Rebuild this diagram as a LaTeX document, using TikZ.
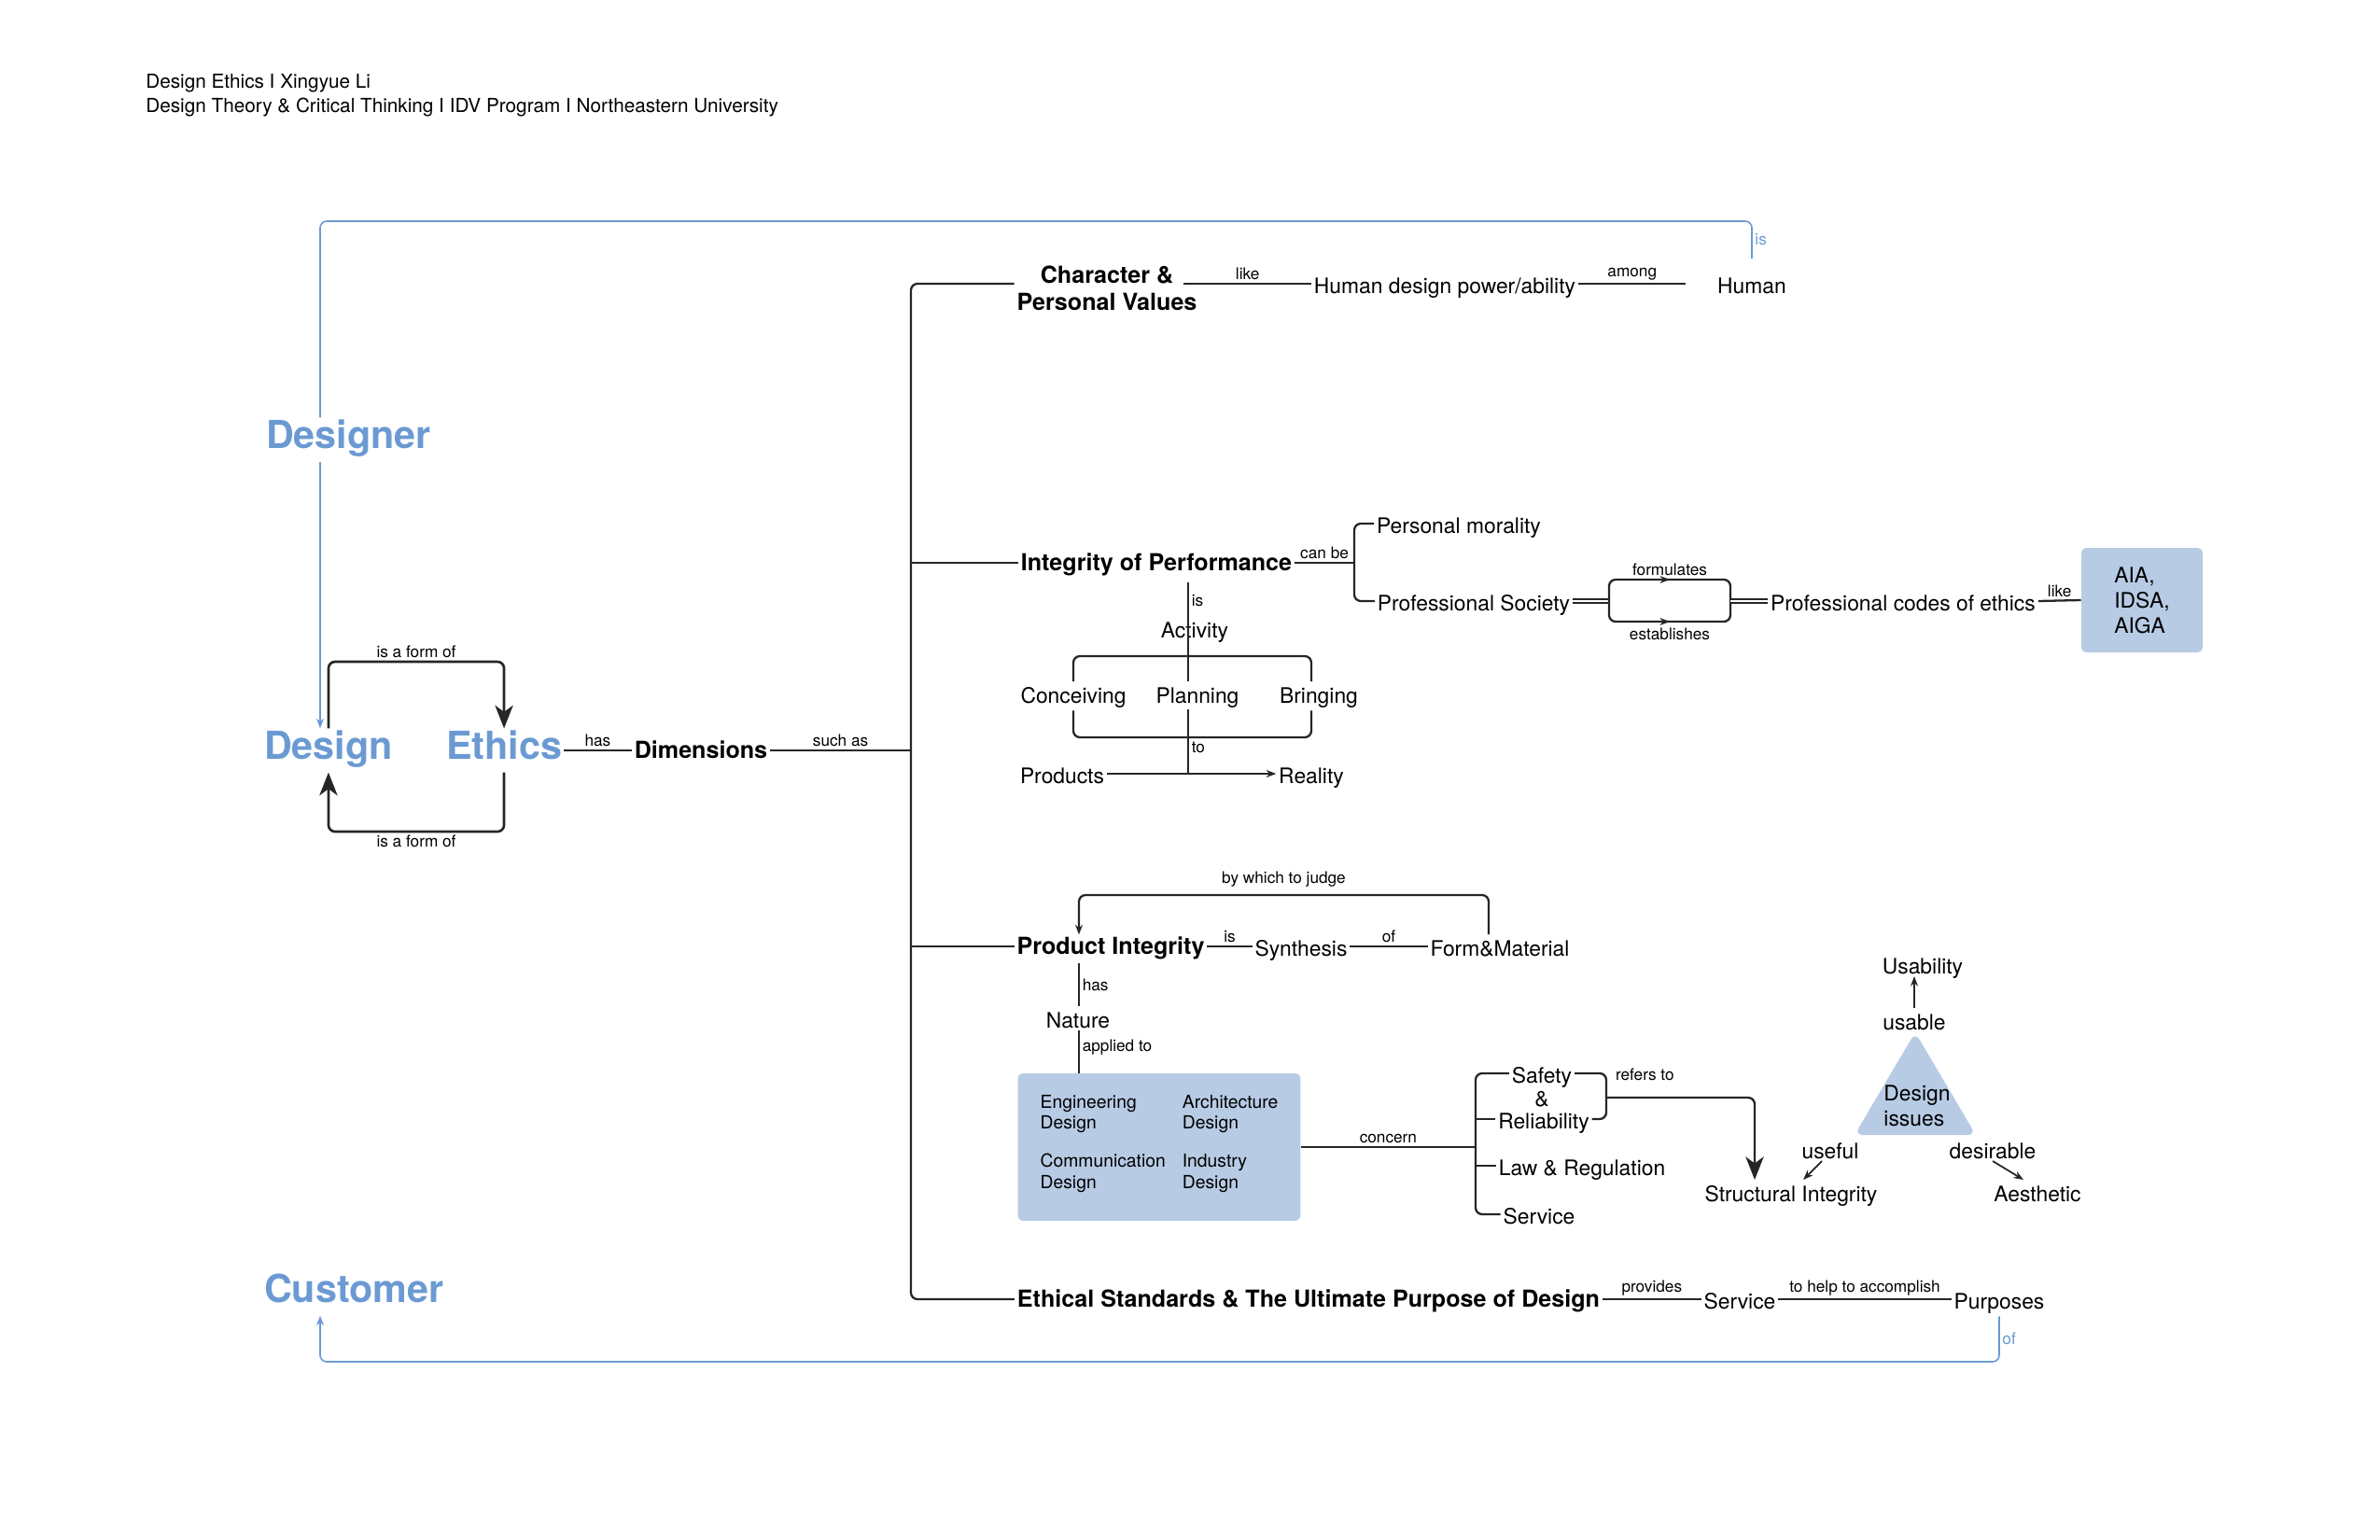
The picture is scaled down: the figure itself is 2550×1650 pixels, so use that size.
\documentclass[tikz,border=0pt]{standalone}
\usepackage{fontspec}
\setmainfont{TeX Gyre Heros}
\usetikzlibrary{positioning, arrows.meta, decorations.markings}

\definecolor{ink}{HTML}{262626}
\definecolor{dsblue}{HTML}{6B9AD3}
\definecolor{boxblue}{HTML}{B7CBE4}

\begin{document}
\begin{tikzpicture}[x=0.02cm, y=-0.02cm, >={Stealth[length=6pt, width=4.5pt]},
    txt/.style={font=\fontsize{13}{15.6}\selectfont, inner sep=1.5pt, text height=11.4pt, text depth=0pt},
    txtml/.style={font=\fontsize{13}{15.6}\selectfont, inner sep=1.5pt, align=left},
    head/.style={font=\fontsize{14.3}{16.5}\selectfont\bfseries, inner sep=1.5pt, text height=10.5pt, text depth=0.5pt},
    hdr/.style={font=\fontsize{11.8}{14}\selectfont, inner sep=0pt, anchor=west},
    big/.style={font=\fontsize{23.5}{28}\selectfont\bfseries, text=dsblue, inner sep=1pt, text height=17.5pt, text depth=7pt, anchor=west},
    lbl/.style={font=\fontsize{9.8}{11}\selectfont, inner sep=1.5pt},
    bluelbl/.style={lbl, text=dsblue},
    link/.style={draw=ink, line width=1.3pt, rounded corners=4pt},
    thinlink/.style={draw=ink, line width=1pt},
    blink/.style={draw=dsblue, line width=0.9pt, rounded corners=4pt},
    dbl/.style={draw=ink, double=white, double distance=1.6pt, line width=0.8pt},
    bigtip/.style={-{Stealth[length=14pt, width=11pt, inset=4pt]}},
    midarrow/.style={postaction={decorate}, decoration={markings, mark=at position 0.5 with {\arrow{Stealth[length=6pt, width=4.5pt]}}}},
    dbox/.style={fill=boxblue, rounded corners=3pt, minimum width=6.06cm, minimum height=3.16cm, font=\fontsize{11}{13}\selectfont},
    aiabox/.style={fill=boxblue, rounded corners=3pt, minimum width=2.6cm, minimum height=2.24cm, align=left, font=\fontsize{13}{15.3}\selectfont}]

  \useasboundingbox (0,0) rectangle (2550,1650);

  % Define the coordinates
  \coordinate (trunk) at (976, 804);
  \coordinate (ltop) at (343, 237);
  \coordinate (lbot) at (343, 1459);
  \coordinate (canbe) at (1451, 603);
  \coordinate (fl) at (1724, 644);
  \coordinate (fr) at (1854, 644);
  \coordinate (act) at (1273, 829);
  \coordinate (pix) at (1156, 959);
  \coordinate (sbr) at (1581, 1229);
  \coordinate (rbr) at (1721, 1176);

  % Draw the header
  \node[hdr] (title) at (156, 89) {Design Ethics I Xingyue Li};
  \node[hdr] (course) at (156, 115) {Design Theory \& Critical Thinking I IDV Program I Northeastern University};

  % Draw the main concepts
  \node[big] (designer) at (283, 471) {Designer};
  \node[big] (design) at (281, 804) {Design};
  \node[big] (ethics) at (476, 804) {Ethics};
  \node[big] (customer) at (281, 1386) {Customer};
  \node[head] (dims) at (751, 804) {Dimensions};

  % Draw the first dimension
  \node[head, text height=, text depth=, align=center] (charv) at (1186, 309) {Character \&\\Personal Values};
  \node[txt] (power) at (1548, 304) {Human design power/ability};
  \node[txt, inner xsep=19pt] (human) at (1877, 304) {Human};

  % Draw the second dimension
  \node[head] (integ) at (1239, 603) {Integrity of Performance};
  \node[txt] (moral) at (1563, 561) {Personal morality};
  \node[txt] (society) at (1579, 644) {Professional Society};
  \node[txt] (codes) at (2039, 644) {Professional codes of ethics};
  \node[aiabox] (aia) at (2295, 643) {AIA,\\IDSA,\\AIGA};
  \node[txt] (activity) at (1280, 673) {Activity};
  \node[txt] (conc) at (1150, 743) {Conceiving};
  \node[txt] (plan) at (1283, 743) {Planning};
  \node[txt] (bring) at (1413, 743) {Bringing};
  \node[txt] (products) at (1138, 829) {Products};
  \node[txt] (reality) at (1405, 829) {Reality};

  % Draw the third dimension
  \node[head] (prodint) at (1190, 1014) {Product Integrity};
  \node[txt] (synth) at (1394, 1014) {Synthesis};
  \node[txt] (form) at (1607, 1014) {Form\&Material};
  \node[txt] (nature) at (1155, 1091) {Nature};
  \node[dbox] (fields) at (1242, 1229) {\begin{tabular}{@{}l@{\hspace{0.36cm}}l@{}}
      Engineering & Architecture\\ Design & Design\\[10pt]
      Communication & Industry\\ Design & Design\\[4pt]\end{tabular}};
  \node[txt] (safety) at (1652, 1150) {Safety};
  \node[txt] (amp) at (1652, 1175) {\&};
  \node[txt] (reliab) at (1654, 1199) {Reliability};
  \node[txt] (law) at (1695, 1249) {Law \& Regulation};
  \node[txt] (service) at (1649, 1301) {Service};
  \node[txt] (structint) at (1919, 1277) {Structural Integrity};

  % Draw the design issues
  \fill[boxblue, rounded corners=5pt] (2052,1106) -- (2117,1216) -- (1987,1216) -- cycle;
  \node[txtml] (issues) at (2054, 1185) {Design\\issues};
  \node[txt] (usable) at (2051, 1093) {usable};
  \node[txt] (usability) at (2060, 1033) {Usability};
  \node[txt] (useful) at (1961, 1231) {useful};
  \node[txt] (desirable) at (2135, 1231) {desirable};
  \node[txt] (aesthetic) at (2183, 1277) {Aesthetic};

  % Draw the fourth dimension
  \node[head] (ethstd) at (1402, 1392) {Ethical Standards \& The Ultimate Purpose of Design};
  \node[txt] (service2) at (1864, 1392) {Service};
  \node[txt] (purposes) at (2142, 1392) {Purposes};

  % Draw the blue links
  \draw[blink] ([yshift=8pt]human.north) |- node[pos=0.25, right, bluelbl] {is} (ltop) -- (designer.north -| ltop);
  \draw[blink, ->] (designer.south -| ltop) -- (design.north -| ltop);
  \draw[blink, ->] ([yshift=-3pt]purposes.south) |- node[pos=0.25, right, bluelbl] {of} (lbot) -- (customer.south -| lbot);

  % Draw the design/ethics loop
  \draw[link, line width=1.5pt, bigtip] (design.north) -- (design.north |- 0,709) -| node[pos=0.25, above, lbl] {is a form of} (ethics.north);
  \draw[link, line width=1.5pt, bigtip] (ethics.south) -- (ethics.south |- 0,891) -| node[pos=0.25, below, lbl] {is a form of} (design.south);
  \draw[link] (ethics.east) -- node[above, lbl] {has} (dims.west);
  \draw[link] (dims.east) -- node[above, lbl] {such as} (trunk);

  % Draw the trunk
  \draw[link] (charv.west |- power.west) -| (trunk);
  \draw[link] (ethstd.west) -| (trunk);
  \draw[link] (integ.west) -- (integ.west -| trunk);
  \draw[link] (prodint.west) -- (prodint.west -| trunk);

  % Draw the first branch
  \draw[link] ([xshift=-0.34cm]charv.east |- power.west) -- node[above, lbl] {like} (power.west);
  \draw[link] (power.east) -- node[above, lbl] {among} (human.west);

  % Draw the second branch
  \draw[link] (integ.east) -- node[above, lbl] {can be} (canbe);
  \draw[link] (moral.west) -| (canbe);
  \draw[link] (society.west) -| (canbe);
  \draw[dbl] (society.east) -- (fl);
  \draw[link, midarrow] (fl) |- node[pos=0.75, above, lbl] {formulates} (fr |- 0,621) -- (fr);
  \draw[link, midarrow] (fl) |- node[pos=0.75, below=2pt, lbl] {establishes} (fr |- 0,666) -- (fr);
  \draw[dbl] (fr) -- (codes.west);
  \draw[link] (codes.east) -- node[above, lbl] {like} (aia.west);
  \draw[link] ([yshift=-5pt]integ.south -| act) -- node[pos=0.18, right, lbl] {is} (plan.north -| act);
  \draw[link] ([yshift=-2pt]plan.south -| act) -- node[pos=0.6, right, lbl] {to} (act);
  \draw[link] (conc.north) -- (conc.north |- 0,703) -| ([xshift=-0.16cm]bring.north);
  \draw[link] ([yshift=-3pt]conc.south) -- (conc.south |- 0,790) -| ([xshift=-0.16cm, yshift=-3pt]bring.south);
  \draw[link, ->] (products.east) -- (reality.west);

  % Draw the third branch
  \draw[link] (prodint.east) -- node[above, lbl] {is} (synth.west);
  \draw[link] (synth.east) -- node[above, lbl] {of} (form.west);
  \draw[link, ->] ([xshift=-0.24cm]form.north) |- node[pos=0.75, above=3pt, lbl] {by which to judge} (pix) -- (prodint.north -| pix);
  \draw[link] ([yshift=-3pt]prodint.south -| pix) -- node[right, lbl] {has} (nature.north -| pix);
  \draw[link] (nature.south -| pix) -- node[pos=0.4, right, lbl] {applied to} (fields.north -| pix);
  \draw[link] (fields.east) -- node[above, lbl] {concern} (sbr);
  \draw[link] (safety.west) -| (sbr);
  \draw[link] (service.west) -| (sbr);
  \draw[link] (reliab.west) -- (reliab.west -| sbr);
  \draw[link] (law.west) -- (law.west -| sbr);
  \draw[link] (safety.east) -| (rbr);
  \draw[link] (reliab.east) -| (rbr);
  \draw[link, bigtip] (rbr) -| node[pos=0.13, above=8pt, lbl] {refers to} ([xshift=-0.78cm]structint.north);
  \draw[thinlink, ->] (usable.north) -- (usable.north |- usability.south);
  \draw[thinlink, ->] ([xshift=-0.18cm]useful.south) -- ([xshift=0.26cm]structint.north);
  \draw[thinlink, ->] (desirable.south) -- ([xshift=-0.3cm]aesthetic.north);

  % Draw the fourth branch
  \draw[link] (ethstd.east) -- node[above, lbl] {provides} (service2.west);
  \draw[link] (service2.east) -- node[above, lbl] {to help to accomplish} (purposes.west);
\end{tikzpicture}
\end{document}
